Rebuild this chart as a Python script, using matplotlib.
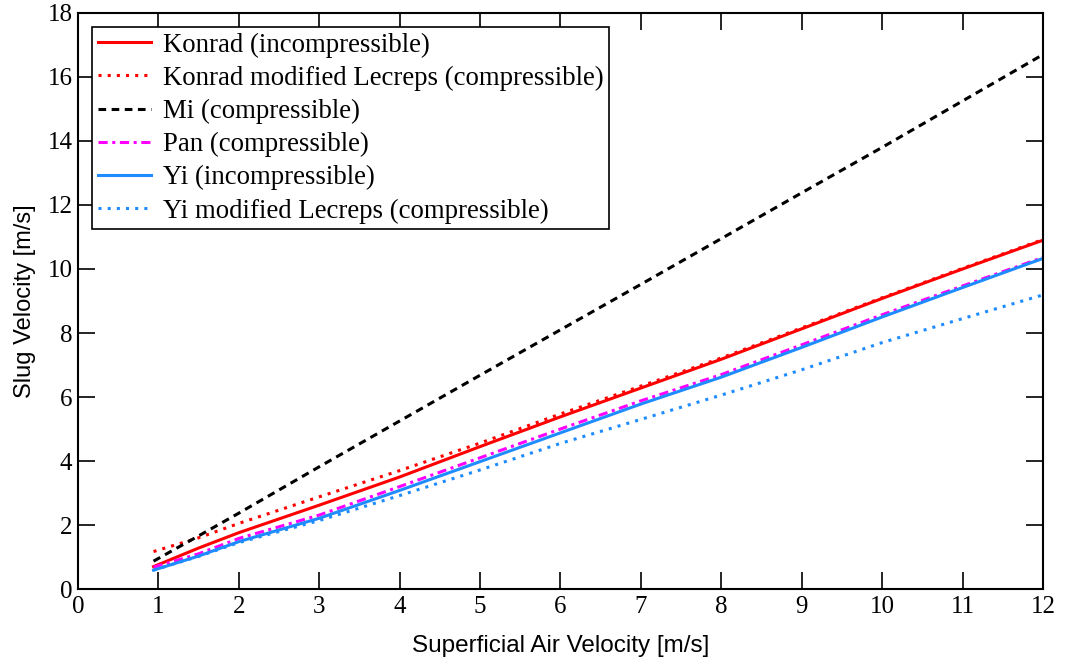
import matplotlib
matplotlib.use("Agg")
import matplotlib.pyplot as plt

x = [0.94, 1.5, 2, 3, 4, 5, 6, 7, 8, 9, 10, 11, 12]

konrad = [0.70, 1.28, 1.76, 2.62, 3.50, 4.45, 5.38, 6.28, 7.18, 8.13, 9.08, 10.00, 10.90]
konrad_lecreps = [1.17, 1.60, 2.05, 2.88, 3.70, 4.56, 5.47, 6.34, 7.22, 8.16, 9.10, 10.02, 10.92]
mi = [0.87, 1.66, 2.37, 3.82, 5.25, 6.68, 8.10, 9.52, 10.95, 12.38, 13.80, 15.25, 16.70]
pan = [0.68, 1.10, 1.58, 2.31, 3.20, 4.10, 5.00, 5.88, 6.70, 7.63, 8.57, 9.47, 10.36]
yi = [0.59, 1.03, 1.48, 2.21, 3.08, 3.98, 4.88, 5.78, 6.62, 7.55, 8.50, 9.42, 10.33]
yi_lecreps = [0.59, 1.02, 1.45, 2.14, 2.92, 3.72, 4.55, 5.30, 6.06, 6.85, 7.70, 8.45, 9.19]

labels = [
    "Konrad (incompressible)",
    "Konrad modified Lecreps (compressible)",
    "Mi (compressible)",
    "Pan (compressible)",
    "Yi (incompressible)",
    "Yi modified Lecreps (compressible)",
]

fig = plt.figure(figsize=(10.65, 6.66), dpi=100)
ax = fig.add_axes([0.0732, 0.1156, 0.9061, 0.8649])

lw = 2.2
ax.plot(x, konrad, color="#ff0000", lw=lw, ls="-", label=labels[0])
ax.plot(x, konrad_lecreps, color="#ff0000", lw=lw, ls=(0, (1, 2)), label=labels[1])
ax.plot(x, mi, color="black", lw=lw, ls=(0, (2.5, 1.8)), label=labels[2])
ax.plot(x, pan, color="#ff00ff", lw=lw, ls=(0, (3, 1.5, 1, 1.5)), label=labels[3])
ax.plot(x, yi, color="#1e8cff", lw=lw, ls="-", label=labels[4])
ax.plot(x, yi_lecreps, color="#1e8cff", lw=lw, ls=(0, (1, 2)), label=labels[5])

ax.set_xlim(0, 12)
ax.set_ylim(0, 18)
ax.set_xticks(range(0, 13))
ax.set_yticks(range(0, 19, 2))

serif = ["Liberation Serif", "DejaVu Serif"]
sans = ["Liberation Sans", "DejaVu Sans"]

ax.tick_params(direction="in", length=12, width=1.2, top=True, right=True,
               labelsize=18)
ax.tick_params(axis="x", pad=5)
ax.tick_params(axis="y", pad=4)
for lab in ax.get_xticklabels() + ax.get_yticklabels():
    lab.set_family(serif)
for s in ax.spines.values():
    s.set_linewidth(1.5)

ax.set_xlabel("Superficial Air Velocity [m/s]", family=sans, fontsize=17.5, labelpad=12)
ax.set_ylabel("Slug Velocity [m/s]", family=sans, fontsize=17, labelpad=8)

leg = ax.legend(loc="upper left", prop={"family": serif, "size": 19.3},
                frameon=True, fancybox=False, edgecolor="black",
                handlelength=2.0, handletextpad=0.45, borderpad=0.2,
                labelspacing=0.3, borderaxespad=0.53, framealpha=1)
leg.get_frame().set_linewidth(1.2)

fig.savefig("out.png", dpi=100)
